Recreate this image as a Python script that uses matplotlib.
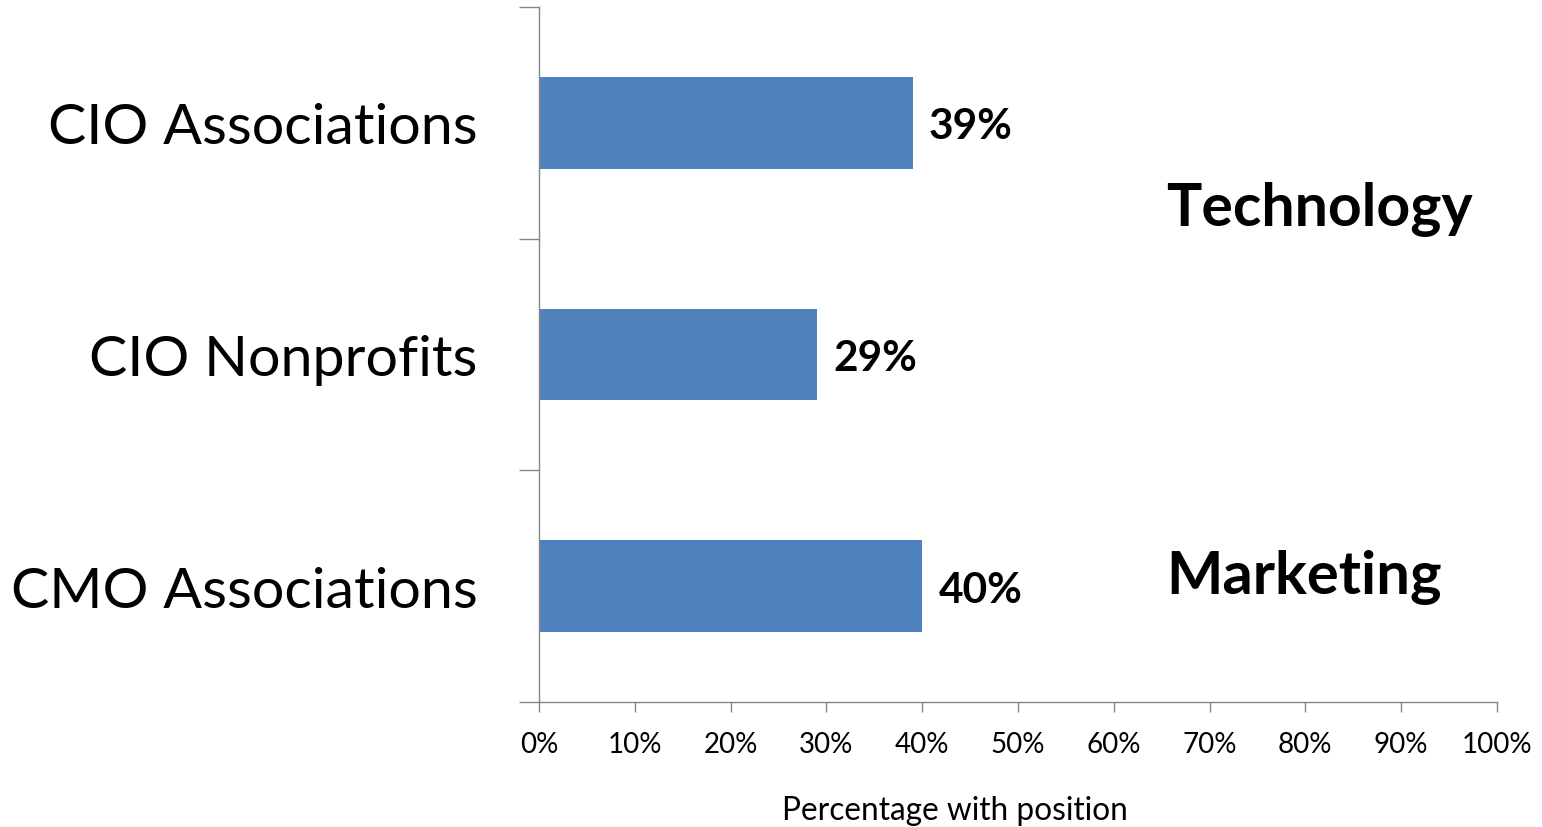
import matplotlib.pyplot as plt
from matplotlib.ticker import FixedLocator, PercentFormatter

categories = ['CIO Associations', 'CIO Nonprofits', 'CMO Associations']
values = [39, 29, 40]
groups = ['Technology', 'Marketing']

plt.rcParams['font.family'] = ['Lato', 'DejaVu Sans']

fig = plt.figure(figsize=(15.42, 8.28), dpi=100)
ax = fig.add_axes([0.3495, 0.151, 0.6213, 0.8393])

axis_grey = '#868686'
ypos = list(range(len(categories)))
ax.barh(ypos, values, height=0.395, color='#4F81BD')

for y, v in zip(ypos, values):
    ax.text(v + 1.7, y + 0.015, f'{v}%', va='center', ha='left',
            fontsize=30.5, fontweight='bold')

ax.set_xlim(0, 100)
ax.set_ylim(2.5, -0.5)

ax.set_yticks(ypos)
ax.set_yticklabels(categories, fontsize=41.3)
ax.yaxis.set_minor_locator(FixedLocator([-0.5, 0.5, 1.5, 2.5]))
ax.tick_params(axis='y', which='major', length=0, pad=44)
ax.tick_params(axis='y', which='minor', length=14.4, width=1, color=axis_grey)

ax.set_xticks(range(0, 101, 10))
ax.xaxis.set_major_formatter(PercentFormatter(decimals=0))
ax.tick_params(axis='x', length=7.2, width=1, color=axis_grey,
               labelsize=20, pad=14)
ax.set_xlabel('Percentage with position', fontsize=22.8)
ax.xaxis.set_label_coords(0.434, -0.134)

for side in ['top', 'right']:
    ax.spines[side].set_visible(False)
for side in ['left', 'bottom']:
    ax.spines[side].set_color(axis_grey)
    ax.spines[side].set_linewidth(1)

# group names sit in the empty space to the right of the bars
ax.text(65.5, 0.37, groups[0], fontsize=42.5, fontweight='bold', va='center')
ax.text(65.5, 1.96, groups[1], fontsize=43, fontweight='bold', va='center')

fig.savefig('out.png', dpi=100)
